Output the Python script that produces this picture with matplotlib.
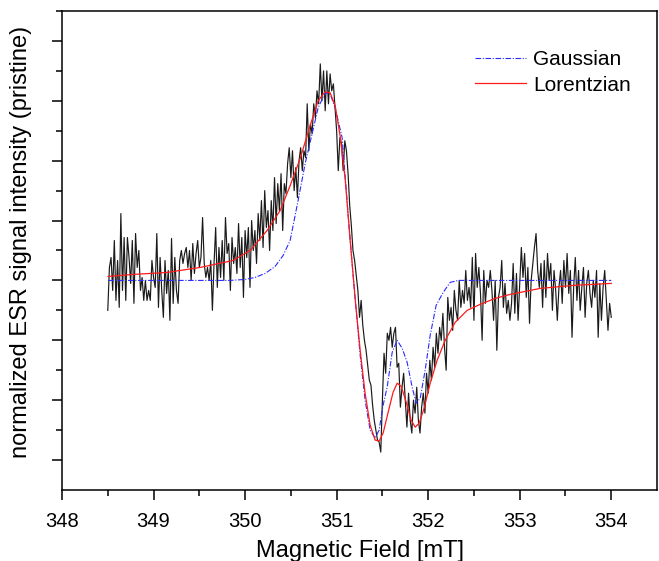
import numpy as np
import matplotlib
matplotlib.use("Agg")
from matplotlib import pyplot as plt

plt.rcParams['font.family'] = ['Liberation Sans', 'DejaVu Sans']

# field sweep of the measured spectrum (mT)
field_start = 348.5
field_stop = 354.0

esr_signal = [
    -30, 13, 23, -10, 40, -20, 20, -27, 67, -10, 43, -20, 43, 23, -3, 40,
    -23, 47, 13, 30, -10, 3, -20, 0, -20, -10, -20, 20, 3, -7, 47, -27,
    23, -10, -37, 20, -13, 10, -40, 42, -23, 23, -10, -23, 20, 30, 17, 27,
    33, 13, 30, 0, 37, 7, 27, 40, 13, 23, 63, 17, 3, 13, 0, 20, -30, 17,
    53, -7, 33, 3, 40, 0, 63, 27, 37, -10, 43, 17, 33, 7, 57, 13, 43, -17,
    50, 23, 53, -7, 60, 30, 50, 17, 67, 40, 80, 33, 90, 53,
    70, 30, 80, 50, 103, 57, 97, 70, 107, 50, 97, 87, 117, 133, 103, 130,
    90, 113, 83, 120, 133, 110, 130, 123, 177, 130, 157, 147, 177, 163,
    190, 177, 217, 180, 210, 170, 210, 177, 207, 190, 197, 173, 150, 110,
    143, 137, 110, 140, 130, 107,
    75, 55, 30, 20, 5, -10, -37, -20, -45, -60, -70, -85, -100, -105,
    -125, -140, -150, -160, -162, -172, -120, -73, -93, -53, -60, -47, -67,
    -53, -47, -87, -83, -127, -107, -93, -120, -147, -113, -140, -153, -120,
    -133, -107, -140, -153, -127, -113, -133, -93, -113, -80, -100, -67,
    -87, -53, -73, -47, -60, -33,
    -67, -90, -17, -40, -27, -50, -10, -30, -40, 0, -27, -10, -23, 10, -20,
    -7, -27, 23, -40, 27, -7, 13, -13, -60, 10, -23, 0, -7, 10, -10, -40,
    0, -70, -17, -7, 20, -27, -3, -33, -20, -40, -23, 17, -33, 7, -40, -3,
    33, 3, 27, -17, 13, -43, 0, 17, 33, 47, 10, -7, 17, -27, 20, -17, 27,
    0, 17, -30, 10, -10, -40, -7, 10, -23, 20, -7, 27, -13, 10, -57, -7,
    23, -20, 10, -30, -7, 13, -37, -3, 10, -13, -27, 0, -17, 10, -57, -3,
    -40, -7, 10, -20, -50, -23, -37,
]

# Gaussian fit
gauss_field = [348.503, 349.836, 350.0, 350.109, 350.219, 350.328, 350.415,
               350.492, 350.579, 350.656, 350.732, 350.798, 350.874, 350.929,
               350.984, 351.060, 351.148, 351.202, 351.257, 351.311, 351.366,
               351.421, 351.464, 351.508, 351.552, 351.607, 351.661, 351.716,
               351.770, 351.825, 351.869, 351.913, 351.967, 352.022, 352.087,
               352.164, 352.240, 352.328, 354.0]
gauss_signal = [0, 0, 1, 3, 7, 14, 25, 40, 80, 117, 147, 173, 188, 187, 173,
                143, 40, -18, -75, -120, -150, -158, -150, -125, -107, -72,
                -60, -68, -82, -107, -123, -118, -90, -55, -25, -12, -2, 0, 0]

# Lorentzian fit
lor_field = [348.503, 348.776, 349.148, 349.508, 349.869, 350.055, 350.24,
             350.383, 350.492, 350.601, 350.71, 350.798, 350.874, 350.929,
             350.984, 351.038, 351.093, 351.148, 351.202, 351.257, 351.311,
             351.366, 351.421, 351.464, 351.508, 351.563, 351.617, 351.661,
             351.705, 351.76, 351.814, 351.858, 351.902, 351.956, 352.022,
             352.098, 352.186, 352.295, 352.426, 352.568, 352.732, 352.896,
             353.224, 353.585, 354.0]
lor_signal = [4, 6, 8, 13, 20, 30, 50, 70, 95, 122, 155, 180, 189, 188, 175,
              145, 102, 40, -18, -70, -113, -145, -160, -161, -153, -132,
              -112, -103, -106, -122, -140, -147, -143, -128, -103, -80, -60,
              -42, -30, -24, -18, -14, -8, -5, -3]

field = np.linspace(field_start, field_stop, len(esr_signal))

fig = plt.figure(figsize=(6.59, 5.61), dpi=100)
ax = fig.add_axes([0.0941, 0.1266, 0.9029, 0.8538])

ax.plot(field, esr_signal, color='#1a1a1a', lw=0.85)
ax.plot(gauss_field, gauss_signal, color='#2a2aff', lw=0.8,
        linestyle=(0, (5, 1.5, 1, 1.5)), label='Gaussian')
ax.plot(lor_field, lor_signal, color='#ff1a1a', lw=0.9, label='Lorentzian')

ax.set_xlim(348, 354.5)
ax.set_ylim(-210, 270)
ax.set_xticks(np.arange(348, 355, 1))
ax.set_xticks(np.arange(348.5, 354.5, 1), minor=True)
ax.set_yticks(np.arange(-180, 241, 60))
ax.set_yticks(np.arange(-150, 271, 60), minor=True)
ax.set_yticklabels([])
ax.tick_params(which='major', length=7.5, width=1.1, labelsize=14.5, pad=8)
ax.tick_params(which='minor', length=4.3, width=1.1)
for s in ax.spines.values():
    s.set_linewidth(1.1)

ax.set_xlabel('Magnetic Field [mT]', fontsize=17, labelpad=7)
ax.set_ylabel('normalized ESR signal intensity (pristine)', fontsize=17)
ax.yaxis.set_label_coords(-0.05, 0.518)

ax.legend(loc='upper left', bbox_to_anchor=(0.694, 0.918), frameon=False,
          fontsize=15, handlelength=2.45, handletextpad=0.35,
          labelspacing=0.3, borderpad=0, borderaxespad=0)

plt.savefig('out.png', dpi=100)
